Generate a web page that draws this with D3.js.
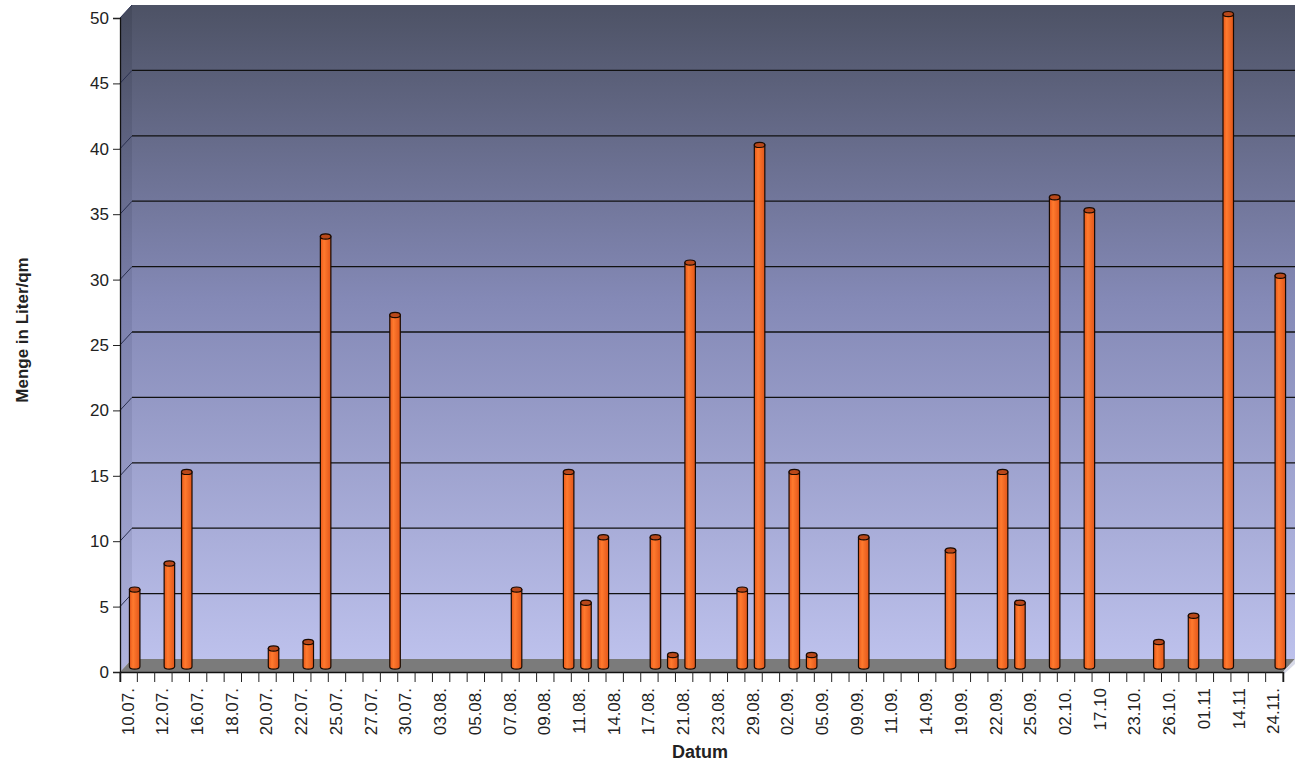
<!DOCTYPE html>
<html>
<head>
	<meta charset="utf-8">
	<title>Niederschlag</title>
	<script src="https://d3js.org/d3.v7.min.js"></script>
	<style>
		body { margin: 0; background: #fff; }
		text { font-family: Arial, "Liberation Sans", sans-serif; fill: #222; }
	</style>
</head>
<body>
<div id="chart"></div>
<script>
// values per day, 67 slots, only every second slot is labelled
var values = [6, 0, 8, 15, 0, 0, 0, 0, 1.5, 0, 2, 33, 0, 0, 0, 27, 0, 0, 0, 0,
	0, 0, 6, 0, 0, 15, 5, 10, 0, 0, 10, 1, 31, 0, 0, 6, 40, 0, 15, 1,
	0, 0, 10, 0, 0, 0, 0, 9, 0, 0, 15, 5, 0, 36, 0, 35, 0, 0, 0, 2,
	0, 4, 0, 50, 0, 0, 30];
var tickLabels = ["10.07.", "12.07.", "16.07.", "18.07.", "20.07.", "22.07.", "25.07.", "27.07.",
	"30.07.", "03.08.", "05.08.", "07.08.", "09.08.", "11.08.", "14.08.", "17.08.", "21.08.",
	"23.08.", "29.08.", "02.09.", "05.09.", "09.09.", "11.09.", "14.09.", "19.09.", "22.09.",
	"25.09.", "02.10.", "17.10", "23.10.", "26.10.", "01.11", "14.11", "24.11."];
var yTicks = [0, 5, 10, 15, 20, 25, 30, 35, 40, 45, 50];

var width = 1300, height = 767;
var depthX = 12, depthY = 13;   // 3d offset of back wall

var svg = d3.select("#chart").append("svg")
	.attr("width", width)
	.attr("height", height);

var x = d3.scaleBand()
	.domain(d3.range(values.length))
	.range([120, 1283]);
var y = d3.scaleLinear()
	.domain([0, 50])
	.range([672, 18]);

var x0 = x.range()[0], x1 = x.range()[1];
var yTop = y(50), yBot = y(0);

var defs = svg.append("defs");
var bg = defs.append("linearGradient").attr("id", "bg").attr("x1", 0).attr("y1", 0).attr("x2", 0).attr("y2", 1);
bg.append("stop").attr("offset", "0%").attr("stop-color", "#4d5265");
bg.append("stop").attr("offset", "45%").attr("stop-color", "#8489b6");
bg.append("stop").attr("offset", "100%").attr("stop-color", "#bdc1ec");

var side = defs.append("linearGradient").attr("id", "side").attr("x1", 0).attr("y1", 0).attr("x2", 0).attr("y2", 1);
side.append("stop").attr("offset", "0%").attr("stop-color", "#454a5c");
side.append("stop").attr("offset", "45%").attr("stop-color", "#7a7fab");
side.append("stop").attr("offset", "100%").attr("stop-color", "#b0b4de");

var barGrad = defs.append("linearGradient").attr("id", "barGrad").attr("x1", 0).attr("y1", 0).attr("x2", 1).attr("y2", 0);
barGrad.append("stop").attr("offset", "0%").attr("stop-color", "#e9581a");
barGrad.append("stop").attr("offset", "35%").attr("stop-color", "#ff7a2e");
barGrad.append("stop").attr("offset", "100%").attr("stop-color", "#e2561a");

// back wall
svg.append("rect")
	.attr("x", x0 + depthX).attr("y", yTop - depthY)
	.attr("width", x1 - x0).attr("height", yBot - yTop)
	.attr("fill", "url(#bg)");

// left wall
svg.append("path")
	.attr("d", "M" + x0 + "," + yTop + "L" + (x0 + depthX) + "," + (yTop - depthY) +
		"L" + (x0 + depthX) + "," + (yBot - depthY) + "L" + x0 + "," + yBot + "Z")
	.attr("fill", "url(#side)");

// floor
svg.append("path")
	.attr("d", "M" + x0 + "," + yBot + "L" + (x0 + depthX) + "," + (yBot - depthY) +
		"L" + (x1 + depthX) + "," + (yBot - depthY) + "L" + x1 + "," + yBot + "Z")
	.attr("fill", "#7b7b7b");

// right end of floor
svg.append("path")
	.attr("d", "M" + x1 + "," + yBot + "L" + (x1 + depthX) + "," + (yBot - depthY) +
		"L" + (x1 + depthX) + "," + (yBot - depthY + 5) + "L" + x1 + "," + (yBot + 3) + "Z")
	.attr("fill", "#d8dae8");

// grid lines
var grid = svg.append("g");
yTicks.filter(function(d) { return d > 0; }).forEach(function(t) {
	grid.append("line")
		.attr("x1", x0).attr("y1", y(t))
		.attr("x2", x0 + depthX).attr("y2", y(t) - depthY)
		.attr("stroke", "#2a3050").attr("stroke-width", 1);
	if (t < 50) {
		grid.append("line")
			.attr("x1", x0 + depthX).attr("y1", y(t) - depthY)
			.attr("x2", x1 + depthX).attr("y2", y(t) - depthY)
			.attr("stroke", "#111").attr("stroke-width", 1.3);
	}
});

// bars as cylinders
var bw = 10.5, ry = 2.6;
var bars = svg.append("g");
values.forEach(function(v, i) {
	if (!v) return;
	var cx = x(i) + x.bandwidth() / 2 + depthX / 2;
	var by = y(0) - depthY / 2 + 1;
	var ty = y(v) - depthY / 2 + ry;
	bars.append("path")
		.attr("d", "M" + (cx - bw / 2) + "," + ty + "L" + (cx - bw / 2) + "," + by +
			"A" + (bw / 2) + "," + ry + " 0 0 0 " + (cx + bw / 2) + "," + by +
			"L" + (cx + bw / 2) + "," + ty + "Z")
		.attr("fill", "url(#barGrad)")
		.attr("stroke", "#1a0a00").attr("stroke-width", 1.2);
	bars.append("ellipse")
		.attr("cx", cx).attr("cy", ty)
		.attr("rx", bw / 2).attr("ry", ry)
		.attr("fill", "#b9481a")
		.attr("stroke", "#1a0a00").attr("stroke-width", 1.2);
});

// y axis
var yAxis = d3.axisLeft(y).tickValues(yTicks).tickSize(7).tickPadding(4);
var gy = svg.append("g").attr("transform", "translate(" + x0 + ",0)").call(yAxis);
gy.select(".domain").attr("stroke", "#111").attr("stroke-width", 1.3);
gy.selectAll(".tick line").attr("stroke", "#222");
gy.selectAll(".tick text").style("font-size", "17px").attr("fill", "#222");

// x axis, every second slot gets a label
var xAxis = d3.axisBottom(x)
	.tickSize(10)
	.tickFormat(function(d) { return d % 2 === 0 ? tickLabels[d / 2] : ""; });
var gx = svg.append("g").attr("transform", "translate(0," + yBot + ")").call(xAxis);
gx.select(".domain").attr("stroke", "#111").attr("stroke-width", 1.5);
gx.selectAll(".tick line")
	.attr("transform", "translate(" + (-x.bandwidth() / 2) + ",0)")
	.attr("stroke", "#222");
gx.append("line")
	.attr("x1", x1).attr("x2", x1).attr("y1", 0).attr("y2", 10)
	.attr("stroke", "#222");
gx.selectAll(".tick text")
	.style("font-size", "17px")
	.attr("fill", "#222")
	.attr("text-anchor", "end")
	.attr("transform", "rotate(-90)")
	.attr("x", -16).attr("y", -1)
	.attr("dy", "0.35em");

// axis titles
svg.append("text")
	.attr("x", 700).attr("y", 758)
	.attr("text-anchor", "middle")
	.style("font-size", "18px").style("font-weight", "bold")
	.text("Datum");
svg.append("text")
	.attr("transform", "translate(28,330) rotate(-90)")
	.attr("text-anchor", "middle")
	.style("font-size", "17px").style("font-weight", "bold")
	.text("Menge in Liter/qm");
</script>
</body>
</html>
